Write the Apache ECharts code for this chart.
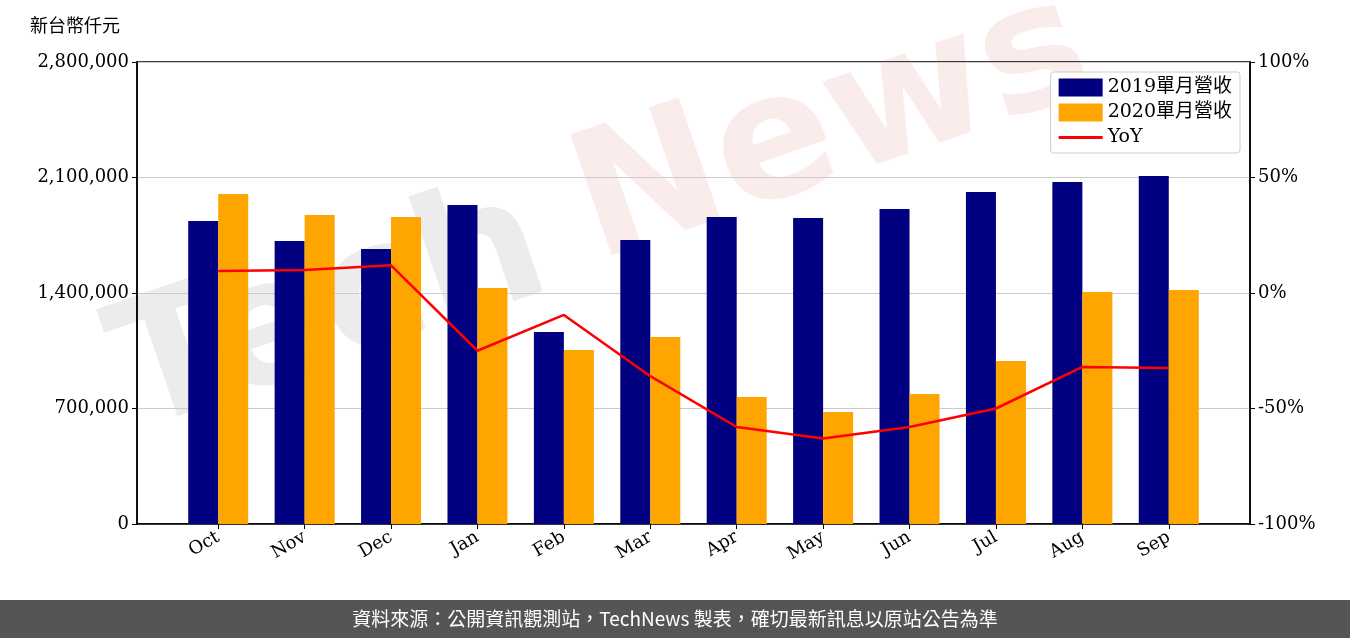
<!DOCTYPE html>
<html><head><meta charset="utf-8">
<script src="https://cdn.jsdelivr.net/npm/echarts@6/dist/echarts.min.js"></script>
<style>html,body{margin:0;padding:0;background:#fff}#chart{width:1350px;height:638px}</style>
</head><body><div id="chart"></div>
<script>
var months = ['Oct', 'Nov', 'Dec', 'Jan', 'Feb', 'Mar', 'Apr', 'May', 'Jun', 'Jul', 'Aug', 'Sep'];
var rev2019 = [1836000, 1715000, 1667000, 1933000, 1164000, 1721000, 1861000, 1855000, 1909000, 2012000, 2073000, 2109000];
var rev2020 = [2000000, 1873000, 1861000, 1430000, 1055000, 1133000, 770000, 679000, 788000, 988000, 1406000, 1418000];
var yoy = [9.5, 10, 12, -25, -9.5, -36, -58, -63, -58, -50, -32, -32.5];

var serif = '"DejaVu Serif", "Noto Sans CJK TC", serif';
var idx = months.map(function (m, i) { return i; });
function pairs(arr) { return arr.map(function (v, i) { return [i, v]; }); }

var chart = echarts.init(document.getElementById('chart'));
chart.setOption({
    animation: false,
    textStyle: { fontFamily: serif },
    grid: { left: 137, right: 100, top: 62, bottom: 114, show: true, borderColor: '#000', borderWidth: 1.5 },
    graphic: [
        { type: 'text', left: 30, top: 16, style: { text: '新台幣仟元', font: '18px "Noto Sans CJK TC"', fill: '#000' } },
        { type: 'text', x: 150, y: 470, rotation: 0.33, z: -1,
          style: { text: 'Tech', font: 'bold 175px "DejaVu Sans"', fill: 'rgba(170,170,170,0.22)', verticalAlign: 'bottom' } },
        { type: 'text', x: 610, y: 300, rotation: 0.33, z: -1,
          style: { text: 'News', font: 'bold 175px "DejaVu Sans"', fill: 'rgba(235,150,150,0.18)', verticalAlign: 'bottom' } },
        { type: 'rect', shape: { x: 0, y: 600, width: 1350, height: 38 }, style: { fill: '#555' } },
        { type: 'text', x: 675, y: 619, style: { text: '資料來源：公開資訊觀測站，TechNews 製表，確切最新訊息以原站公告為準',
          font: '19px "Noto Sans CJK TC"', fill: '#fff', align: 'center', verticalAlign: 'middle' } }
    ],
    legend: {
        right: 110, top: 72, orient: 'vertical', itemGap: 6, itemWidth: 44, itemHeight: 18,
        backgroundColor: '#fff', borderColor: '#ccc', borderWidth: 1, padding: [6, 8], borderRadius: 3,
        textStyle: { fontFamily: serif, fontSize: 19, color: '#000' },
        data: [{ name: '2019單月營收', icon: 'rect' }, { name: '2020單月營收', icon: 'rect' },
               { name: 'YoY', icon: 'path://M0,9 L44,9 L44,12 L0,12 Z' }]
    },
    xAxis: {
        type: 'value', min: -0.94, max: 11.94,
        splitLine: { show: false },
        axisLine: { lineStyle: { color: '#000', width: 1.5 } },
        axisTick: { show: true, customValues: idx, length: 5, lineStyle: { color: '#000' } },
        axisLabel: { customValues: idx, rotate: 30, fontSize: 18, color: '#000', margin: 12,
            formatter: function (v) { return months[Math.round(v)]; } }
    },
    yAxis: [{
        type: 'value', min: 0, max: 2800000, interval: 700000,
        axisLine: { show: true, onZero: false, lineStyle: { color: '#000', width: 1.5 } },
        axisTick: { show: true, length: 5, lineStyle: { color: '#000' } },
        splitLine: { lineStyle: { color: '#ccc', width: 1.2 } },
        axisLabel: { fontSize: 18, color: '#000', formatter: function (v) { return v.toLocaleString('en-US'); } }
    }, {
        type: 'value', min: -100, max: 100, interval: 50,
        axisLine: { show: true, onZero: false, lineStyle: { color: '#000', width: 1.5 } },
        axisTick: { show: true, length: 5, lineStyle: { color: '#000' } },
        splitLine: { show: false },
        axisLabel: { fontSize: 18, color: '#000', formatter: '{value}%' }
    }],
    series: [{
        name: '2019單月營收', type: 'bar', barWidth: 30, barGap: '0%', itemStyle: { color: '#000080' },
        data: pairs(rev2019)
    }, {
        name: '2020單月營收', type: 'bar', barWidth: 30, barGap: '0%', itemStyle: { color: '#FFA500' },
        data: pairs(rev2020)
    }, {
        name: 'YoY', type: 'line', yAxisIndex: 1, symbol: 'none', z: 5,
        lineStyle: { color: '#ff0000', width: 2.5 }, itemStyle: { color: '#ff0000' },
        data: pairs(yoy)
    }]
});
</script></body></html>
